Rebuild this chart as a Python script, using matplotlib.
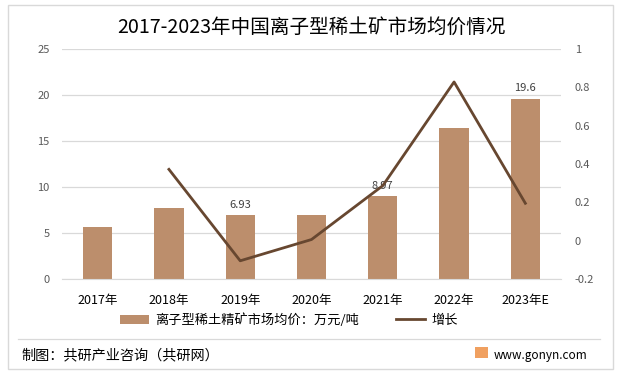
import matplotlib
matplotlib.use("Agg")
import matplotlib.pyplot as plt
from matplotlib.patches import Rectangle, Patch
from matplotlib.lines import Line2D

plt.rcParams['font.family'] = ['Noto Sans CJK SC', 'DejaVu Sans']

years = ["2017年", "2018年", "2019年", "2020年", "2021年", "2022年", "2023年E"]
price = [5.65, 7.75, 6.93, 6.97, 8.97, 16.4, 19.6]
growth = [None, 0.372, -0.105, 0.006, 0.287, 0.828, 0.195]
label_idx = [2, 4, 6]
label_txt = ["6.93", "8.97", "19.6"]

title = "2017-2023年中国离子型稀土矿市场均价情况"
bar_name = "离子型稀土精矿市场均价：万元/吨"
line_name = "增长"

BAR_C = "#BC8E6C"
LINE_C = "#674730"

fig = plt.figure(figsize=(6.19, 3.78), dpi=100)
fig.patch.set_facecolor("white")

# outer border
fig.add_artist(Rectangle((8/619, 1-369/378), 605/619, 364/378, transform=fig.transFigure,
                         fill=False, edgecolor="#D9D9D9", linewidth=1.0))
# footer separator
fig.add_artist(Line2D([18/619, 600/619], [1-339/378, 1-339/378], transform=fig.transFigure,
                      color="#D9D9D9", linewidth=0.9))

ax = fig.add_axes([62/619, 1-279/378, 499/619, 230/378])
x = list(range(len(years)))
ax.bar(x, price, width=0.41, color=BAR_C, zorder=2)
ax.set_ylim(0, 25)
ax.set_yticks([0, 5, 10, 15, 20, 25])
ax.set_xlim(-0.5, len(years) - 0.5)
ax.set_xticks(x)
ax.set_xticklabels(years, fontsize=9, color="#000000")
ax.grid(axis="y", color="#D9D9D9", linewidth=0.9, zorder=0)
ax.set_axisbelow(True)
for s in ax.spines.values():
    s.set_visible(False)
ax.spines["bottom"].set_visible(True)
ax.spines["bottom"].set_color("#D9D9D9")
ax.tick_params(axis="y", length=0, labelsize=8, labelcolor="#595959", pad=9)
ax.tick_params(axis="x", length=0, pad=11)

for i, t in zip(label_idx, label_txt):
    ax.text(i, price[i] + 0.6, t, ha="center", va="bottom", fontsize=8, color="#404040", zorder=3)

ax2 = ax.twinx()
gx = [i for i, g in zip(x, growth) if g is not None]
gy = [g for g in growth if g is not None]
ax2.plot(gx, gy, color=LINE_C, linewidth=2.0, zorder=4)
ax2.set_ylim(-0.2, 1.0)
ax2.set_yticks([-0.2, 0, 0.2, 0.4, 0.6, 0.8, 1.0])
ax2.set_yticklabels(["-0.2", "0", "0.2", "0.4", "0.6", "0.8", "1"])
for s in ax2.spines.values():
    s.set_visible(False)
ax2.tick_params(axis="y", length=0, labelsize=8, labelcolor="#595959", pad=10)

fig.text(311/619, 1-27/378, title, ha="center", va="center", fontsize=14.1, color="#000000")

# legend
handles = [Patch(facecolor=BAR_C, edgecolor="none"),
           Line2D([0], [0], color=LINE_C, linewidth=2.0)]
fig.legend(handles, [bar_name, line_name], loc="center", bbox_to_anchor=(289/619, 1-320/378),
           ncol=2, frameon=False, fontsize=9.5, handlelength=2.2, handleheight=0.7,
           columnspacing=2.8, handletextpad=0.5)

fig.text(21/619, 1-355/378, "制图：共研产业咨询（共研网）", ha="left", va="center", fontsize=10.2, color="#000000")
fig.add_artist(Rectangle((475/619, 1-358/378), 13/619, 11/378, transform=fig.transFigure,
                         facecolor="#F0A060", edgecolor="none"))
fig.text(494/619, 1-355/378, "www.gonyn.com", ha="left", va="center", fontsize=8.5, color="#000000")

fig.savefig("out.png", dpi=100, facecolor="white")
